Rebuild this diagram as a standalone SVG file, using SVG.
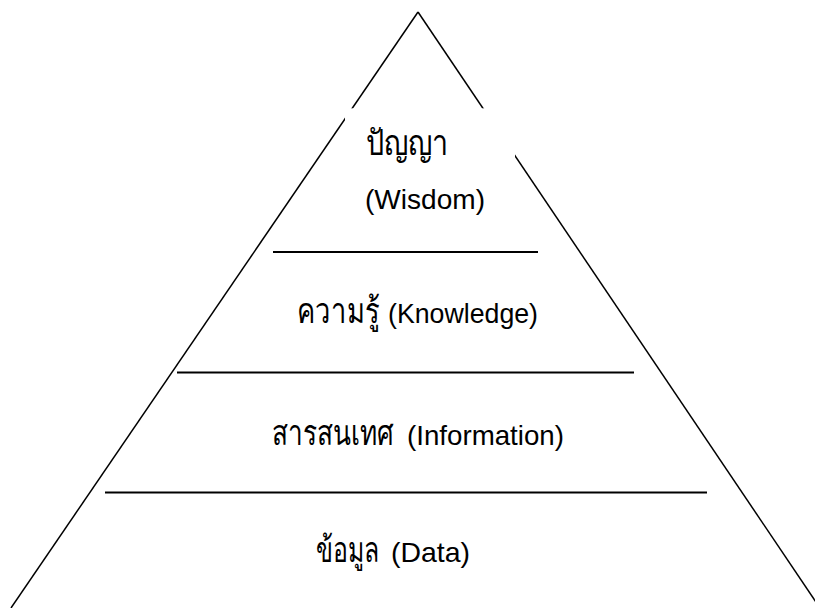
<svg xmlns="http://www.w3.org/2000/svg" width="815" height="608" viewBox="0 0 815 608">
<style>
.edge{stroke:#000;stroke-width:1.5;fill:none}
.tier{stroke:#000;stroke-width:2;fill:none}
.lbl{font-family:"Liberation Sans",Arial,"Noto Sans",sans-serif;font-size:28px;fill:#000}
.th{font-size:35px}
</style>
<rect width="815" height="608" fill="#fff"/>
<g id="connectors">
<path class="edge" d="M418,12 L11,608"/>
<path class="edge" d="M418,12 L820,608"/>
<line class="tier" x1="273" y1="252" x2="538" y2="252"/>
<line class="tier" x1="177" y1="372.5" x2="634" y2="372.5"/>
<line class="tier" x1="105" y1="492.5" x2="707" y2="492.5"/>
</g>
<g id="wisdom">
<rect x="345" y="108.3" width="170" height="110" fill="#fff"/>
<text class="lbl th" transform="translate(366,155) scale(0.82,1)">ปัญญา</text>
<text class="lbl" x="365" y="209" textLength="120" lengthAdjust="spacingAndGlyphs">(Wisdom)</text>
</g>
<g id="knowledge">
<text class="lbl th" transform="translate(297,323) scale(0.78,1)">ความรู้</text>
<text class="lbl" x="388" y="323" textLength="150" lengthAdjust="spacingAndGlyphs">(Knowledge)</text>
</g>
<g id="information">
<text class="lbl th" transform="translate(272,445) scale(0.75,1)">สารสนเทศ</text>
<text class="lbl" x="407" y="445" textLength="157" lengthAdjust="spacingAndGlyphs">(Information)</text>
</g>
<g id="data">
<text class="lbl th" transform="translate(316,562) scale(0.71,1)">ข้อมูล</text>
<text class="lbl" x="391" y="562" textLength="79" lengthAdjust="spacingAndGlyphs">(Data)</text>
</g>
</svg>
